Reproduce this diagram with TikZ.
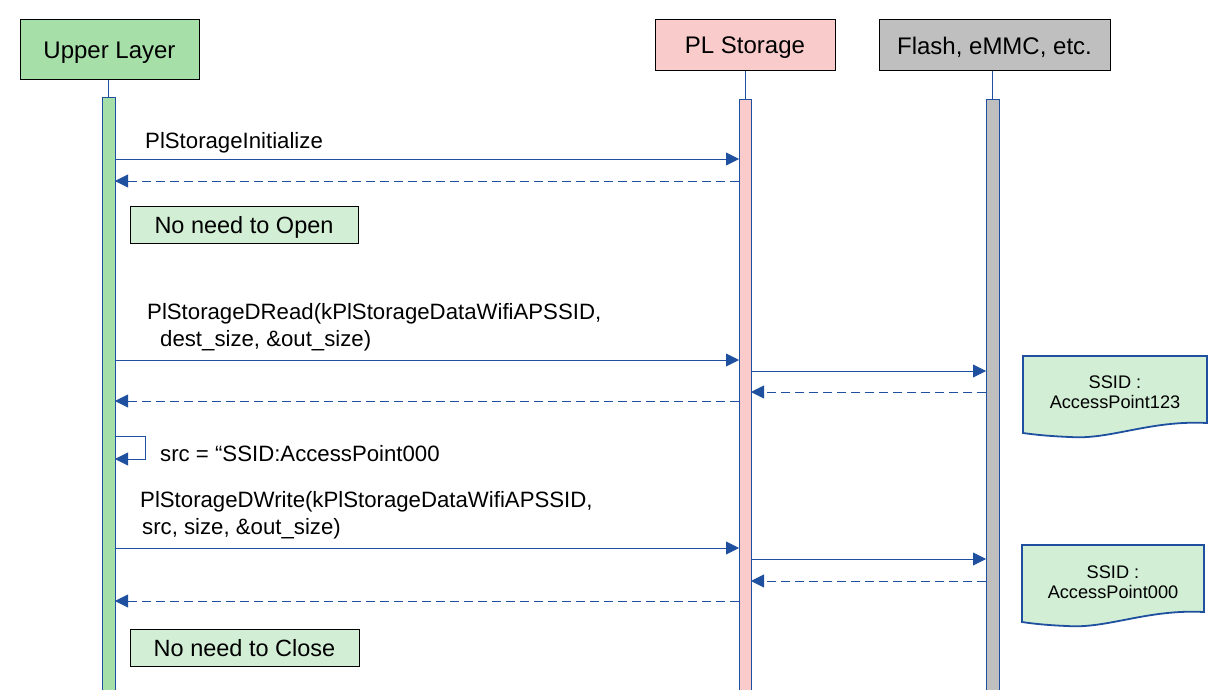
\documentclass[tikz,border=0pt]{standalone}
\usepackage{fontspec}
\setmainfont{Liberation Sans}
\usetikzlibrary{arrows.meta}
\definecolor{lineblue}{HTML}{1F50A0}
\definecolor{upfill}{HTML}{A6DFA8}
\definecolor{plfill}{HTML}{F9CBCB}
\definecolor{flfill}{HTML}{BFBFBF}
\definecolor{notefill}{HTML}{D2EED5}
\tikzset{
  head/.style={draw=black, line width=1pt, minimum height=51pt, inner sep=0pt, text depth=0pt, font=\fontsize{24}{28}\selectfont},
  lifeline/.style={draw=lineblue, line width=0.9pt},
  bar/.style={draw=lineblue, line width=0.9pt},
  msg/.style={draw=lineblue, line width=0.9pt, -{Triangle[length=13pt,width=13pt]}},
  ret/.style={msg, dash pattern=on 9pt off 5pt},
  lbl/.style={anchor=west, inner sep=0pt, font=\fontsize{22.2}{27}\selectfont},
  notebox/.style={draw=black, line width=1pt, fill=notefill, inner sep=0pt, text depth=0pt, font=\fontsize{23.5}{27}\selectfont},
  doc/.style={draw=lineblue, line width=1.8pt, fill=notefill},
  doctext/.style={align=center, inner sep=0pt, font=\fontsize{18.2}{20.5}\selectfont}
}
\begin{document}
\begin{tikzpicture}[x=1pt,y=-1pt]
\useasboundingbox (0,0) rectangle (1226,690);
% heads
\node[head, fill=upfill, minimum width=179pt, minimum height=60pt] (up) at (109.5,50) {Upper Layer};
\node[head, fill=plfill, minimum width=180pt] (pl) at (745,45.5) {PL Storage};
\node[head, fill=flfill, minimum width=231pt] (fl) at (994.5,45.5) {Flash, eMMC, etc.};
% lifelines
\coordinate (upb) at (108.5,97);
\coordinate (plb) at (745,99);
\coordinate (flb) at (992.5,99);
\draw[lifeline] (up.south -| upb) -- (upb);
\draw[lifeline] (pl.south -| plb) -- (plb);
\draw[lifeline] (fl.south -| flb) -- (flb);
\draw[bar, fill=upfill] (102,97) rectangle (115,692);
\draw[bar, fill=plfill] (739,99) rectangle (751,692);
\draw[bar, fill=flfill] (986,99) rectangle (999,692);
% coordinates on bars
\coordinate (u1) at (115,159); \coordinate (p1) at (739,159);
\coordinate (p2) at (739,181); \coordinate (u2) at (115,181);
\coordinate (u3) at (115,360); \coordinate (p3) at (739,360);
\coordinate (pr4) at (751,371); \coordinate (f4) at (986,371);
\coordinate (f5) at (986,392); \coordinate (pr5) at (751,392);
\coordinate (p6) at (739,401); \coordinate (u6) at (115,401);
\coordinate (s1) at (115,436); \coordinate (s2) at (145,436);
\coordinate (s3) at (145,459); \coordinate (s4) at (115,459);
\coordinate (u7) at (115,548); \coordinate (p7) at (739,548);
\coordinate (pr8) at (751,559); \coordinate (f8) at (986,559);
\coordinate (f9) at (986,581); \coordinate (pr9) at (751,581);
\coordinate (p10) at (739,601); \coordinate (u10) at (115,601);
% messages
\draw[msg] (u1) -- (p1);
\draw[ret] (p2) -- (u2);
\draw[msg] (u3) -- (p3);
\draw[msg] (pr4) -- (f4);
\draw[ret] (f5) -- (pr5);
\draw[ret] (p6) -- (u6);
\draw[msg] (s1) -- (s2) -- (s3) -- (s4);
\draw[msg] (u7) -- (p7);
\draw[msg] (pr8) -- (f8);
\draw[ret] (f9) -- (pr9);
\draw[ret] (p10) -- (u10);
% labels
\node[lbl] (l1) at (145,143) {PlStorageInitialize};
\node[lbl] (l2a) at (147,314) {PlStorageDRead(kPlStorageDataWifiAPSSID,};
\node[lbl] (l2b) at (160,341) {dest\_size, \&out\_size)};
\node[lbl] (l3) at (160,454) {src = “SSID:AccessPoint000};
\node[lbl] (l4a) at (140,502) {PlStorageDWrite(kPlStorageDataWifiAPSSID,};
\node[lbl] (l4b) at (142,529) {src, size, \&out\_size)};
% notes
\node[notebox, minimum width=228pt, minimum height=37pt] (n1) at (244,224.5) {No need to Open};
\node[notebox, minimum width=229pt, minimum height=37pt] (n2) at (244.5,647.5) {No need to Close};
% documents
\draw[doc] (1023,356) -- (1207,356) -- (1207,423)
  .. controls (1150,420) and (1110,440) .. (1070,437)
  .. controls (1045,436) and (1030,434) .. (1023,433) -- cycle;
\node[doctext] (d1) at (1115,392) {SSID :\\AccessPoint123};
\draw[doc] (1022,545) -- (1204,545) -- (1204,612)
  .. controls (1147,609) and (1107,629) .. (1067,626)
  .. controls (1042,625) and (1029,623) .. (1022,622) -- cycle;
\node[doctext] (d2) at (1113,582) {SSID :\\AccessPoint000};
\end{tikzpicture}
\end{document}
